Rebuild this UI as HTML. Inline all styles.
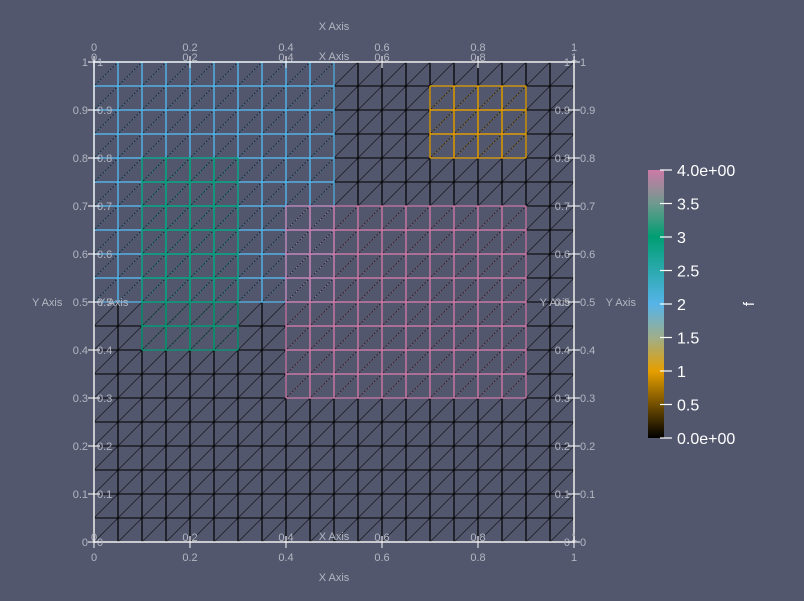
<!DOCTYPE html>
<html><head><meta charset="utf-8"><style>
html,body{margin:0;padding:0;background:#52576e;}
svg{display:block;font-family:"Liberation Sans",sans-serif;}
</style></head><body>
<svg id="chart" width="804" height="601" viewBox="0 0 804 601"></svg>
<script>
const xTicks=[0,0.2,0.4,0.6,0.8,1];
const yTicks=[0,0.1,0.2,0.3,0.4,0.5,0.6,0.7,0.8,0.9,1];
const gridStep=0.05;
const regionX0=[0,0.1,0.4,0.7];
const regionX1=[0.5,0.3,0.9,0.9];
const regionY0=[0.5,0.4,0.3,0.8];
const regionY1=[1,0.8,0.7,0.95];
const regionValue=[2,3,4,1];
const cbTicks=[0,0.5,1,1.5,2,2.5,3,3.5,4];
const cbLabels=["0.0e+00","0.5","1","1.5","2","2.5","3","3.5","4.0e+00"];
const cbStops=[[0,"#000000"],[1,"#e69f00"],[1.5,"#9fae8a"],[2,"#56b4e9"],[3,"#009e73"],[3.5,"#6f9a8e"],[4,"#cc79a7"]];

const X0=94,X1=574,Y0=542,Y1=62;
const sx=v=>X0+(X1-X0)*v, sy=v=>Y0-(Y0-Y1)*v;
const NS="http://www.w3.org/2000/svg";
const svg=document.getElementById('chart');
function mk(t,a,parent){const e=document.createElementNS(NS,t);for(const k in a)e.setAttribute(k,a[k]);(parent||svg).appendChild(e);return e;}
function colorFor(v){for(const s of cbStops)if(Math.abs(s[0]-v)<1e-9)return s[1];return "#000";}

const n=Math.round(1/gridStep);
const cells=mk('g',{});


function drawCell(i,j,col,diag,dash,w,op){
  const a=sx(i*gridStep),b=sx((i+1)*gridStep),c=sy(j*gridStep),d=sy((j+1)*gridStep);
  mk('line',{x1:a,y1:c,x2:a,y2:d,stroke:col,'stroke-width':w},cells);
  mk('line',{x1:b,y1:c,x2:b,y2:d,stroke:col,'stroke-width':w},cells);
  mk('line',{x1:a,y1:c,x2:b,y2:c,stroke:col,'stroke-width':w},cells);
  mk('line',{x1:a,y1:d,x2:b,y2:d,stroke:col,'stroke-width':w},cells);
  mk('line',{x1:a,y1:c,x2:b,y2:d,stroke:diag,'stroke-width':0.7,'stroke-dasharray':dash,'stroke-opacity':op},cells);
}
for(let i=0;i<n;i++)for(let j=0;j<n;j++)drawCell(i,j,"#000","#111","",1.1,0.9);
for(let r=0;r<regionValue.length;r++){
  const col=colorFor(regionValue[r]);
  for(let i=Math.round(regionX0[r]/gridStep);i<Math.round(regionX1[r]/gridStep);i++)
    for(let j=Math.round(regionY0[r]/gridStep);j<Math.round(regionY1[r]/gridStep);j++)
      drawCell(i,j,col,col,"1.5,2",1.3,0.75);
}
const border=mk('rect',{x:X0,y:Y1,width:X1-X0,height:Y0-Y1,fill:'none',stroke:'#f0f0f0','stroke-width':1.5});



const lab='#b4b6c0';
const axes=mk('g',{'font-size':11,fill:lab});


function txt(x,y,s,anchor){return mk('text',{x:x,y:y,'text-anchor':anchor||'middle'},axes).textContent=s;}
xTicks.forEach(v=>{
  const x=sx(v);
  txt(x,51,String(v));txt(x,61,String(v));
  txt(x,541,String(v));txt(x,561,String(v));
  mk('line',{x1:x,y1:Y1-6,x2:x,y2:Y1+6,stroke:'#fff','stroke-width':1},axes);
  mk('line',{x1:x,y1:Y0-6,x2:x,y2:Y0+6,stroke:'#fff','stroke-width':1},axes);
});
yTicks.forEach(v=>{
  const y=sy(v)+4;
  txt(88,y,String(v),'end');txt(97,y,String(v),'start');
  txt(570,y,String(v),'end');txt(580,y,String(v),'start');
  mk('line',{x1:X0-6,y1:sy(v),x2:X0+6,y2:sy(v),stroke:'#fff','stroke-width':1},axes);
  mk('line',{x1:X1-6,y1:sy(v),x2:X1+6,y2:sy(v),stroke:'#fff','stroke-width':1},axes);
});
txt(334,30,"X Axis");txt(334,60,"X Axis");txt(334,540,"X Axis");txt(334,581,"X Axis");
txt(32,306,"Y Axis",'start');txt(98,306,"Y Axis",'start');txt(570,306,"Y Axis",'end');txt(636,306,"Y Axis",'end');

const CB0=438,CB1=170;
const cy=v=>CB0-(CB0-CB1)*v/4;
const defs=mk('defs',{});
const grad=mk('linearGradient',{id:'cbg',x1:0,y1:1,x2:0,y2:0},defs);
cbStops.forEach(s=>mk('stop',{offset:s[0]/4,'stop-color':s[1]},grad));
const cb=mk('g',{});


mk('rect',{x:648,y:CB1,width:16,height:CB0-CB1,fill:'url(#cbg)'},cb);
cbTicks.forEach((v,k)=>{
  mk('line',{x1:660,y1:cy(v),x2:672,y2:cy(v),stroke:'#fff','stroke-width':1.2},cb);
  const t=mk('text',{x:677,y:cy(v)+6,'font-size':16,fill:'#fff'},cb);t.textContent=cbLabels[k];
});
const ft=mk('text',{x:0,y:0,'font-size':15,fill:'#fff',transform:'translate(754,304) rotate(-90)','text-anchor':'middle'},cb);
ft.textContent="f";
</script>
</body></html>
